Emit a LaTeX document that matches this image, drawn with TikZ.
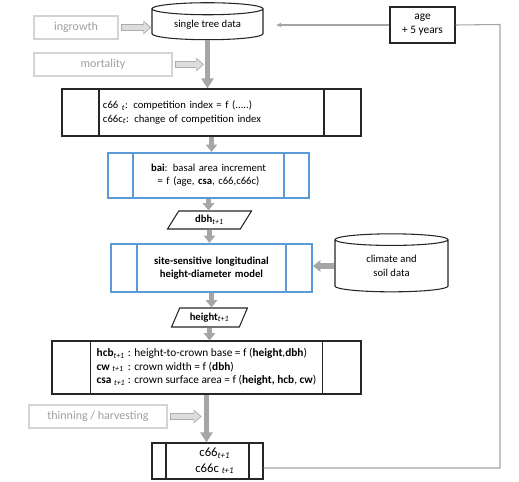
\documentclass[tikz,border=0pt]{standalone}
\usepackage{fontspec}
\setmainfont{Carlito}
\usetikzlibrary{shapes.geometric,arrows.meta}

\definecolor{modelblue}{HTML}{5B9BD5}
\definecolor{flowgray}{HTML}{A6A6A6}
\definecolor{sidegray}{HTML}{D4D4D4}
\definecolor{sideline}{HTML}{ADADAD}
\definecolor{textgray}{HTML}{9E9E9E}

\begin{document}
\begin{tikzpicture}[x=0.75pt, y=-0.75pt,
  font=\fontsize{8}{10}\selectfont,
  main node/.style={draw=black!85, line width=0.8pt, align=center, inner sep=0pt},
  side node/.style={draw=sidegray, line width=0.8pt, text=textgray, inner sep=0pt,
    font=\fontsize{9}{11}\selectfont, minimum height=17.25pt},
  store node/.style={main node, cylinder, shape border rotate=90},
  io node/.style={main node, trapezium, trapezium left angle=60, trapezium right angle=120,
    trapezium stretches=true},
  proc node/.style={main node, path picture={
    \draw[black!85, line width=0.8pt]
      ([xshift=#1]path picture bounding box.north west) -- ([xshift=#1]path picture bounding box.south west)
      ([xshift=-#1]path picture bounding box.north east) -- ([xshift=-#1]path picture bounding box.south east);}},
  model node/.style={main node, draw=modelblue, line width=1.6pt, path picture={
    \draw[modelblue, line width=1.6pt]
      ([xshift=#1]path picture bounding box.north west) -- ([xshift=#1]path picture bounding box.south west)
      ([xshift=-#1]path picture bounding box.north east) -- ([xshift=-#1]path picture bounding box.south east);}},
  flow/.style={draw=flowgray, line width=3.9pt, -{Triangle[length=5.5pt,width=8.5pt]}},
  long flow/.style={flow, -{Triangle[length=7.5pt,width=9pt]}},
  side arrow/.style={draw=sideline, line width=5.6pt, shorten <=1.5pt, -{Triangle[length=6pt,width=10pt]}},
  side fill/.style={draw=sidegray!80, line width=4pt, shorten <=2.3pt, shorten >=1.1pt,
    -{Triangle[length=4.6pt,width=7.8pt]}},
  back/.style={draw=flowgray, line width=0.8pt}
]
\useasboundingbox (0,0) rectangle (519,482);

\node[store node, aspect=0.18, minimum width=83.25pt, minimum height=27.75pt] (data) at (207.5,24.5) {single tree data};
\node[side node, minimum width=63pt] (ing) at (76,27.5) {ingrowth};
\node[side node, minimum width=103.5pt] (mort) at (103,64.5) {mortality};
\node[main node, minimum width=48.75pt, minimum height=27pt, font=\fontsize{8.5}{10.5}\selectfont] (age) at (422.5,25) {age\\+ 5 years};

\node[proc node=27.75pt, align=left, text width=162.75pt, inner xsep=30.75pt, minimum height=35.25pt] (c66) at (211.5,112.5)
  {c66 \textsubscript{\textit{t}}: competition index = f (.....)\\
   c66c\textsubscript{\textit{t}}: change of competition index};
\node[model node=18.75pt, text width=113.25pt, inner xsep=18.75pt, minimum height=33.75pt] (bai) at (208.5,175.5)
  {\textbf{bai}: basal area increment\\= f (age, \textbf{csa}, c66,c66c)};
\node[io node, minimum width=63pt, minimum height=13.5pt] (dbh) at (209.5,220) {\textbf{dbh}\textsubscript{\textit{t+1}}};
\node[model node=19.5pt, text width=111.75pt, inner xsep=19.5pt, minimum height=36pt, font=\fontsize{8}{10}\bfseries] (hdm) at (211.5,268)
  {site-sensitive longitudinal\\height-diameter model};
\node[store node, aspect=0.23, minimum width=84.75pt, minimum height=43.5pt] (clim) at (391.5,266) {climate and\\soil data};
\node[io node, minimum width=57pt, minimum height=14.25pt] (height) at (209.5,317.5) {\textbf{height}\textsubscript{\textit{t+1}}};
\node[proc node=29pt, minimum width=231.75pt, minimum height=39.75pt, font=\fontsize{8.5}{10.1}\selectfont] (crown) at (206.5,367.5)
  {\begin{tabular}{@{}l@{\ }l@{}}
   \textbf{hcb}\textsubscript{\textit{t+1}} & : height-to-crown base = f (\textbf{height},\textbf{dbh})\\
   \textbf{cw} \textsubscript{\textit{t+1}} & : crown width = f (\textbf{dbh})\\
   \textbf{csa} \textsubscript{\textit{t+1}} & : crown surface area = f (\textbf{height, hcb}, \textbf{cw})
   \end{tabular}};
\node[side node, minimum width=103.5pt] (thin) at (98,416.5) {thinning / harvesting};
\node[proc node=10.5pt, minimum width=83.25pt, minimum height=27pt, font=\fontsize{9.5}{11.5}\selectfont] (next) at (207.5,461)
  {\hspace*{11pt}c66\textsubscript{\textit{t+1}}\\\hspace*{11pt}c66c \textsubscript{\textit{t+1}}};
\coordinate (turn) at (500,24.5);

% main flow
\path
(data.south) edge[long flow] (data.south |- c66.north)
(c66.south)  edge[flow] (c66.south |- bai.north)
(bai.south)  edge[flow] (bai.south |- dbh.north)
(dbh.south)  edge[flow] (dbh.south |- hdm.north)
(hdm.south)  edge[flow] (hdm.south |- height.north)
(height.south) edge[flow] (height.south |- crown.north)
(crown.south)  edge[long flow] (crown.south |- next.north)
(clim.west)  edge[flow] (clim.west -| hdm.east)
;

% side inputs
\draw[side arrow] (ing.east) -- (data.west |- ing.east);
\draw[side fill]  (ing.east) -- (data.west |- ing.east);
\draw[side arrow, shorten >=2.6pt] (mort.east) -- (mort.east -| data.south);
\draw[side fill, shorten >=3.7pt]  (mort.east) -- (mort.east -| data.south);
\draw[side arrow, shorten >=3.6pt] (thin.east) -- (thin.east -| crown.south);
\draw[side fill, shorten >=4.7pt]  (thin.east) -- (thin.east -| crown.south);

% feedback loop
\draw[back] ([yshift=-5.25pt]next.east) -| (turn) -- (age.east);
\draw[back, shorten >=9.5pt, -{Stealth[length=4pt,width=3.5pt]}] (age.west) -- (data.east |- age.west);
\end{tikzpicture}
\end{document}
